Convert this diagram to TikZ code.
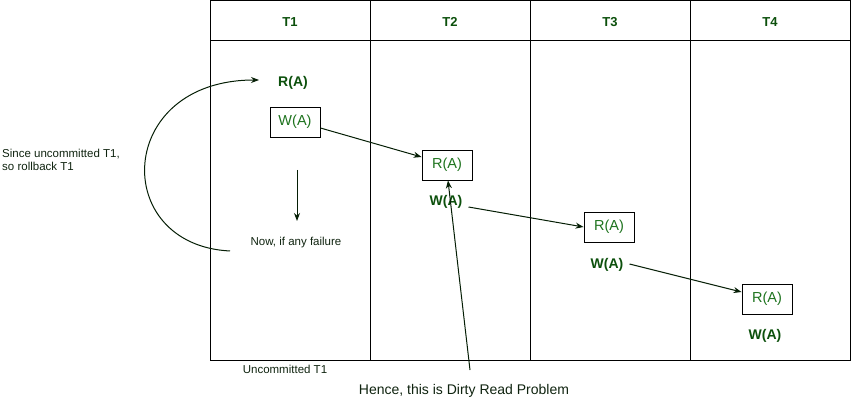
\documentclass[tikz,border=0pt]{standalone}
\usepackage{fontspec}
\setmainfont{Liberation Sans}
\usetikzlibrary{arrows.meta}
\definecolor{boxgreen}{RGB}{30,115,30}
\definecolor{boldgreen}{RGB}{12,80,12}
\definecolor{darktext}{RGB}{15,35,15}
\definecolor{arrowc}{RGB}{5,30,5}
\tikzset{
  grid/.style={draw=black, line width=0.9pt},
  hdr/.style={font=\fontsize{13}{15}\selectfont\bfseries, text=boldgreen, inner sep=0pt},
  opbold/.style={font=\fontsize{14}{16}\selectfont\bfseries, text=boldgreen, inner sep=0pt},
  opbox/.style={draw=black, line width=0.9pt, font=\fontsize{14.5}{16}\selectfont, text=boxgreen, minimum width=50pt, minimum height=30pt, inner sep=0pt},
  note/.style={font=\fontsize{11.5}{13}\selectfont, text=darktext, inner sep=0pt},
  big/.style={font=\fontsize{14}{16}\selectfont, text=darktext, inner sep=0pt},
  conn/.style={draw=arrowc, line width=1pt, -{Stealth[length=8pt,width=6pt]}},
}
\begin{document}
\begin{tikzpicture}[x=1pt,y=-1pt]
\useasboundingbox (0,0) rectangle (852,401);
% table
\draw[grid] (210,0.5) rectangle (850.5,360);
\draw[grid] (210,40) -- (850.5,40);
\draw[grid] (370,0.5) -- (370,360);
\draw[grid] (530,0.5) -- (530,360);
\draw[grid] (690,0.5) -- (690,360);
% headers
\node[hdr] (h1) at (290,22) {T1};
\node[hdr] (h2) at (450,22) {T2};
\node[hdr] (h3) at (610,22) {T3};
\node[hdr] (h4) at (770,22) {T4};
% T1
\node[opbold] (r1) at (293,83) {R(A)};
\node[opbox] (w1) at (295,122) {W(A)};
\node[note] (fail) at (296,243) {Now, if any failure};
\coordinate (d1) at (297,170);
\coordinate (d2) at (297,221);
% T2
\node[opbox] (r2) at (447,165) {R(A)};
\node[opbold] (w2) at (446,202) {W(A)};
% T3
\node[opbox] (r3) at (609,227) {R(A)};
\node[opbold] (w3) at (607,265) {W(A)};
% T4
\node[opbox] (r4) at (767,299) {R(A)};
\node[opbold] (w4) at (765,336) {W(A)};
% notes
\node[note, align=left, anchor=west] (since) at (2,159.5) {Since uncommitted T1,\\so rollback T1};
\node[note] (unc) at (285,369) {Uncommitted T1};
\node[big] (hence) at (464,391) {Hence, this is Dirty Read Problem};
\coordinate (cstart) at (230,251);
\coordinate (cend) at (259,80);
\coordinate (dstart) at (470,370);
% connectors
\draw[conn] (cstart) .. controls (110,245) and (115,80) .. (cend);
\draw[conn] (d1) -- (d2);
\draw[conn] ([yshift=-6pt]w1.east) -- ([yshift=8pt]r2.west);
\draw[conn] ([xshift=6pt,yshift=-5pt]w2.east) -- (r3.west);
\draw[conn] ([xshift=6pt,yshift=1pt]w3.east) -- ([yshift=7pt]r4.west);
\draw[conn] (dstart) -- ([xshift=1pt]r2.south);
\end{tikzpicture}
\end{document}
